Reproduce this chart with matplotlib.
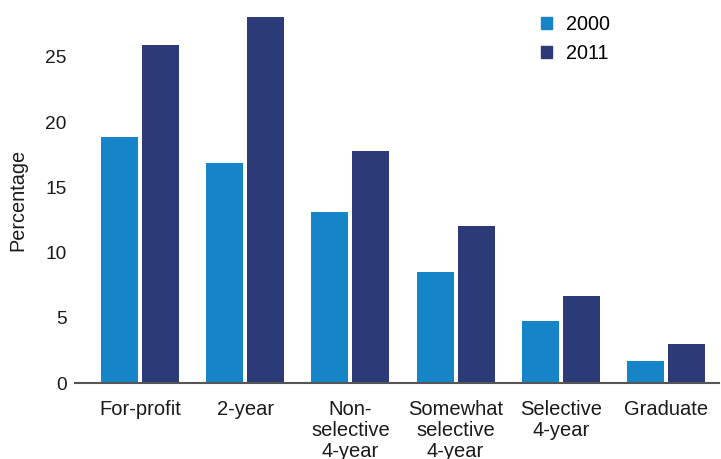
import matplotlib
matplotlib.use("Agg")
import matplotlib.pyplot as plt
from matplotlib.patches import Patch
import numpy as np

categories = ["For-profit", "2-year", "Non-\nselective\n4-year", "Somewhat\nselective\n4-year", "Selective\n4-year", "Graduate"]
series_names = ["2000", "2011"]
values_2000 = [18.9, 16.9, 13.1, 8.5, 4.75, 1.7]
values_2011 = [25.9, 28.1, 17.8, 12.0, 6.7, 3.0]
yticks = [0, 5, 10, 15, 20, 25]

c2000 = "#1585C7"
c2011 = "#2C3B77"

plt.rcParams['font.family'] = ['Liberation Sans', 'DejaVu Sans']
plt.rcParams['font.size'] = 14

fig = plt.figure(figsize=(7.21, 4.59), dpi=100)
ax = fig.add_axes([75/721, 1 - 383/459, (719-75)/721, (383-16)/459])

x = np.arange(len(categories))
w = 0.352
off = 0.195
ax.bar(x - off, values_2000, width=w, color=c2000, label=series_names[0])
ax.bar(x + off, values_2011, width=w, color=c2011, label=series_names[1])

ax.set_xlim(-0.619, 5.505)
ax.set_ylim(0, 28.14)
ax.set_yticks(yticks)
ax.set_xticks(x)
ax.set_xticklabels(categories, linespacing=1.15, fontsize=14.5)
ax.tick_params(axis='both', length=0, colors='#1a1a1a')
ax.tick_params(axis='y', pad=6, labelsize=13.8)
ax.tick_params(axis='x', pad=12)
for s in ['top', 'right', 'left']:
    ax.spines[s].set_visible(False)
ax.spines['bottom'].set_color('#555555')
ax.spines['bottom'].set_linewidth(1.5)
ax.set_ylabel("Percentage", fontsize=14.3, color='#1a1a1a', labelpad=13)

handles = [Patch(color=c2000), Patch(color=c2011)]
leg = fig.legend(handles, series_names, loc='upper left', bbox_to_anchor=(541/721, 1 - 15/459),
                 frameon=False, handlelength=0.57, handleheight=0.57, handletextpad=0.68,
                 labelspacing=0.5, borderpad=0, borderaxespad=0, fontsize=14.2)

fig.savefig("out.png", dpi=100)
